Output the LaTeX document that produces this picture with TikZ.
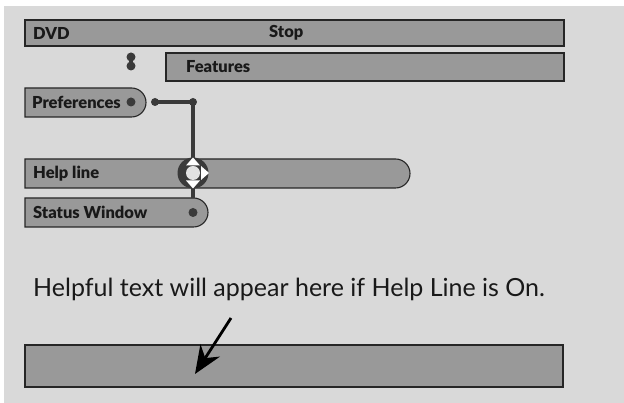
\documentclass[tikz,border=0pt]{standalone}
\usepackage{fontspec}
\setmainfont{Lato}[BoldFont={Lato Black}]
\usetikzlibrary{arrows.meta}
\definecolor{bggray}{HTML}{D9D9D9}
\definecolor{barfill}{HTML}{999999}
\definecolor{darkline}{HTML}{3A3A3A}
\definecolor{knobin}{HTML}{E2E2E2}
\tikzset{
  bar/.style={fill=barfill, draw=black!85, line width=1.1pt},
  lbl/.style={anchor=west, inner sep=0pt, font=\fontsize{16.5}{19}\selectfont\bfseries, text=black!90},
  dot/.style={circle, fill=darkline, inner sep=0pt, minimum size=9pt},
  smalldot/.style={circle, fill=darkline, inner sep=0pt, minimum size=8pt},
  wire/.style={draw=darkline, line width=4pt},
}
\begin{document}
\begin{tikzpicture}[x=1pt,y=1pt]
\useasboundingbox (0,0) rectangle (624,403);
\fill[white] (0,0) rectangle (624,403);
\fill[bggray] (4,0) rectangle (624,397);
% DVD bar
\draw[bar] (25,357) rectangle (564,383);
\node[lbl] (dvd) at (33,370) {DVD};
\node[lbl] (stop) at (269,370) {Stop};
% Features bar
\draw[bar, line width=1.5pt] (166,322) rectangle (564,350);
\node[lbl] (feat) at (186,336) {Features};
% two dots
\node[dot] (d1) at (131,346) {};
\node[dot] (d2) at (131,337) {};
\draw[wire] (d1.center) -- (d2.center);
% Preferences
\draw[bar] (25,286) -- (131.5,286) arc(-90:90:14.5) -- (25,315) -- cycle;
\node[lbl] (pref) at (32,301) {Preferences};
\node[dot] (prefdot) at (131,301) {};
\node[smalldot] (p1) at (155,301) {};
\node[smalldot] (p2) at (193,301) {};
% Help line
\draw[bar] (25,215) -- (395.5,215) arc(-90:90:14.5) -- (25,244) -- cycle;
\node[lbl] (help) at (33,229.5) {Help line};
% Status window
\draw[bar] (25,176) -- (193.5,176) arc(-90:90:14.5) -- (25,205) -- cycle;
\node[lbl] (status) at (33,190.5) {Status Window};
\node[dot] (sdot) at (193,190.5) {};
% wires
\draw[wire] (p1.center) -- (p2.center) -- (193,235);
\draw[wire] (193,225) -- (193,205);
% knob
\node[circle, fill=darkline, inner sep=0pt, minimum size=31pt] (knob) at (193,230) {};
\fill[knobin] (knob.center) circle (7pt);
\fill[white] (186,237.5) -- (200,237.5) -- (193,245.5) -- cycle;
\fill[white] (186,222.5) -- (200,222.5) -- (193,214.5) -- cycle;
\fill[white] (201,223) -- (201,237) -- (209,230) -- cycle;
% help text
\node[anchor=base west, inner sep=0pt, font=\fontsize{25}{29}\selectfont, text=black!90] (htext) at (33,106) {Helpful text will appear here if Help Line is On.};
% bottom bar
\draw[bar] (25,16) rectangle (563,58);
\coordinate (aend) at (195,29);
\coordinate (astart) at (231,85);
\draw[line width=2.8pt, -{Stealth[length=28pt, width=23pt]}] (astart) -- (aend);
\end{tikzpicture}
\end{document}
